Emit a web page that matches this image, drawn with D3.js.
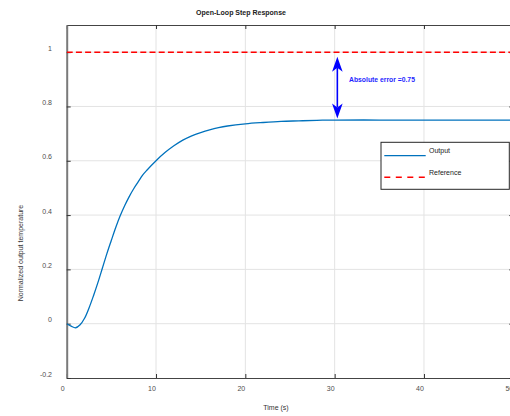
<!DOCTYPE html>
<html>
<head>
<meta charset="utf-8">
<script src="https://cdn.jsdelivr.net/npm/d3@7"></script>
<style>
  html, body { margin: 0; padding: 0; background: #fff; }
  svg { display: block; font-family: "Liberation Sans", Arial, Helvetica, sans-serif; }
</style>
</head>
<body>
<div id="chart"></div>
<script>
var timeValues   = [0, 0.5, 1, 1.5, 2, 2.5, 3, 3.5, 4, 4.5, 5, 5.5, 6, 6.5, 7, 7.5, 8, 8.5, 9, 10,
                    11, 12, 13, 14, 15, 16, 17, 18, 20, 22, 24, 26, 28, 30, 35, 40, 45, 50];
var outputValues = [0, -0.009, -0.015, -0.004, 0.02, 0.058, 0.103, 0.152, 0.205, 0.258, 0.307, 0.355, 0.398, 0.435, 0.468, 0.497, 0.522, 0.547, 0.566, 0.6,
                    0.63, 0.655, 0.676, 0.692, 0.704, 0.714, 0.722, 0.728, 0.736, 0.741, 0.745, 0.747, 0.749, 0.75, 0.75, 0.75, 0.75, 0.75];
var referenceValue = [1, 1];
var referenceTime  = [0, 50];

var xTicks = [0, 10, 20, 30, 40, 50];
var yTicks = [-0.2, 0, 0.2, 0.4, 0.6, 0.8, 1];

var legendLabels = ['Output', 'Reference'];

// double arrow annotation: time, top tip, bottom tip
var arrowTime  = [30.3];
var arrowRange = [0.983, 0.756];
var arrowLabel = ['Absolute error =0.75'];

var width  = 510,
    height = 416;

var plotLeft   = 66.7,
    plotRight  = 513.3,
    plotTop    = 25,
    plotBottom = 378;

var svg = d3.select('#chart').append('svg')
    .attr('width', width)
    .attr('height', height);

var x = d3.scaleLinear().domain([0, 50]).range([plotLeft, plotRight]);
var y = d3.scaleLinear().domain([-0.2, 1.1]).range([plotBottom, plotTop]);

svg.append('clipPath').attr('id', 'plotclip')
    .append('rect')
    .attr('x', plotLeft).attr('y', plotTop)
    .attr('width', plotRight - plotLeft).attr('height', plotBottom - plotTop);

// grid
var grid = svg.append('g').attr('stroke', '#e3e3e3').attr('stroke-width', 1);
grid.selectAll('.vg').data(xTicks.slice(1, -1)).enter().append('line')
    .attr('x1', function(d){ return x(d); }).attr('x2', function(d){ return x(d); })
    .attr('y1', plotTop).attr('y2', plotBottom);
grid.selectAll('.hg').data(yTicks.slice(1)).enter().append('line')
    .attr('x1', plotLeft).attr('x2', plotRight)
    .attr('y1', function(d){ return y(d); }).attr('y2', function(d){ return y(d); });

// axes (ticks inward, labels drawn separately to match offsets)
var axisBottom = d3.axisBottom(x).tickValues(xTicks).tickSizeInner(-4).tickSizeOuter(0).tickFormat('');
var axisTop    = d3.axisTop(x).tickValues(xTicks).tickSizeInner(-4).tickSizeOuter(0).tickFormat('');
var axisLeft   = d3.axisLeft(y).tickValues(yTicks).tickSizeInner(-4).tickSizeOuter(0).tickFormat('');
var axisRight  = d3.axisRight(y).tickValues(yTicks).tickSizeInner(-4).tickSizeOuter(0).tickFormat('');

svg.append('g').attr('transform', 'translate(0,' + plotBottom + ')').call(axisBottom)
    .call(function(g){ g.select('.domain').attr('stroke', '#444').attr('stroke-width', 1.2); g.selectAll('line').attr('stroke', '#333'); });
svg.append('g').attr('transform', 'translate(0,' + plotTop + ')').call(axisTop)
    .call(function(g){ g.select('.domain').attr('stroke', '#444').attr('stroke-width', 1.2); g.selectAll('line').attr('stroke', '#333'); });
svg.append('g').attr('transform', 'translate(' + plotLeft + ',0)').call(axisLeft)
    .call(function(g){ g.select('.domain').attr('stroke', '#7a7a7a').attr('stroke-width', 2); g.selectAll('line').attr('stroke', '#333'); });
svg.append('g').attr('transform', 'translate(' + plotRight + ',0)').call(axisRight)
    .call(function(g){ g.select('.domain').attr('stroke', '#444'); g.selectAll('line').attr('stroke', '#333'); });

// tick labels
svg.append('g').selectAll('text').data(xTicks).enter().append('text')
    .attr('x', function(d){ return x(d) - 4; })
    .attr('y', 390.5)
    .attr('text-anchor', 'middle')
    .attr('font-size', 7)
    .attr('fill', '#4d4d4d')
    .text(function(d){ return d; });

svg.append('g').selectAll('text').data(yTicks).enter().append('text')
    .attr('x', 52)
    .attr('y', function(d){ return y(d) - 1.5; })
    .attr('text-anchor', 'end')
    .attr('font-size', 7)
    .attr('fill', '#4d4d4d')
    .text(function(d){ return d; });

// lines
var plot = svg.append('g').attr('clip-path', 'url(#plotclip)');

var outLine = d3.line()
    .x(function(d, i){ return x(timeValues[i]); })
    .y(function(d){ return y(d); })
    .curve(d3.curveCatmullRom.alpha(0.5));

plot.append('path')
    .datum(outputValues)
    .attr('d', outLine)
    .attr('fill', 'none')
    .attr('stroke', '#0072bd')
    .attr('stroke-width', 1.3);

var refLine = d3.line()
    .x(function(d, i){ return x(referenceTime[i]); })
    .y(function(d){ return y(d); });

plot.append('path')
    .datum(referenceValue)
    .attr('d', refLine)
    .attr('fill', 'none')
    .attr('stroke', '#ff0000')
    .attr('stroke-width', 1.5)
    .attr('stroke-dasharray', '6,3.2');

// double arrow
var ax = x(arrowTime[0]), ay1 = y(arrowRange[0]), ay2 = y(arrowRange[1]);
var headLen = 15, headW = 5.3, notch = 4;
svg.append('line')
    .attr('x1', ax).attr('x2', ax)
    .attr('y1', ay1 + headLen - notch).attr('y2', ay2 - headLen + notch)
    .attr('stroke', '#0000ff').attr('stroke-width', 1.6);
svg.append('path')
    .attr('d', 'M' + ax + ',' + ay1 +
               'L' + (ax + headW) + ',' + (ay1 + headLen) +
               'L' + ax + ',' + (ay1 + headLen - notch) +
               'L' + (ax - headW) + ',' + (ay1 + headLen) + 'Z')
    .attr('fill', '#0000ff');
svg.append('path')
    .attr('d', 'M' + ax + ',' + ay2 +
               'L' + (ax + headW) + ',' + (ay2 - headLen) +
               'L' + ax + ',' + (ay2 - headLen + notch) +
               'L' + (ax - headW) + ',' + (ay2 - headLen) + 'Z')
    .attr('fill', '#0000ff');

svg.append('text')
    .attr('x', 349)
    .attr('y', 81.5)
    .attr('font-size', 6.8)
    .attr('font-weight', 'bold')
    .attr('fill', '#1f1fff')
    .text(arrowLabel[0]);

// legend
var legend = svg.append('g');
legend.append('rect')
    .attr('x', 381).attr('y', 142.3)
    .attr('width', 128.3).attr('height', 47)
    .attr('fill', '#fff')
    .attr('stroke', '#262626')
    .attr('stroke-width', 1);
legend.append('line')
    .attr('x1', 384.3).attr('x2', 425.7).attr('y1', 155.7).attr('y2', 155.7)
    .attr('stroke', '#0072bd').attr('stroke-width', 1.3);
legend.append('line')
    .attr('x1', 384.3).attr('x2', 425.7).attr('y1', 177.3).attr('y2', 177.3)
    .attr('stroke', '#ff0000').attr('stroke-width', 1.5).attr('stroke-dasharray', '6,5.5');
legend.selectAll('.lt').data(legendLabels).enter().append('text')
    .attr('x', 429)
    .attr('y', function(d, i){ return i === 0 ? 152.5 : 175; })
    .attr('font-size', 7)
    .attr('fill', '#222')
    .text(function(d){ return d; });

// titles
svg.append('text')
    .attr('x', 241).attr('y', 14.5)
    .attr('text-anchor', 'middle')
    .attr('font-size', 7)
    .attr('font-weight', 'bold')
    .attr('fill', '#222')
    .text('Open-Loop Step Response');

svg.append('text')
    .attr('x', 276).attr('y', 410)
    .attr('text-anchor', 'middle')
    .attr('font-size', 7)
    .attr('fill', '#333')
    .text('Time (s)');

svg.append('text')
    .attr('transform', 'translate(23,253) rotate(-90)')
    .attr('text-anchor', 'middle')
    .attr('font-size', 7)
    .attr('fill', '#333')
    .text('Normalized output temperature');
</script>
</body>
</html>
